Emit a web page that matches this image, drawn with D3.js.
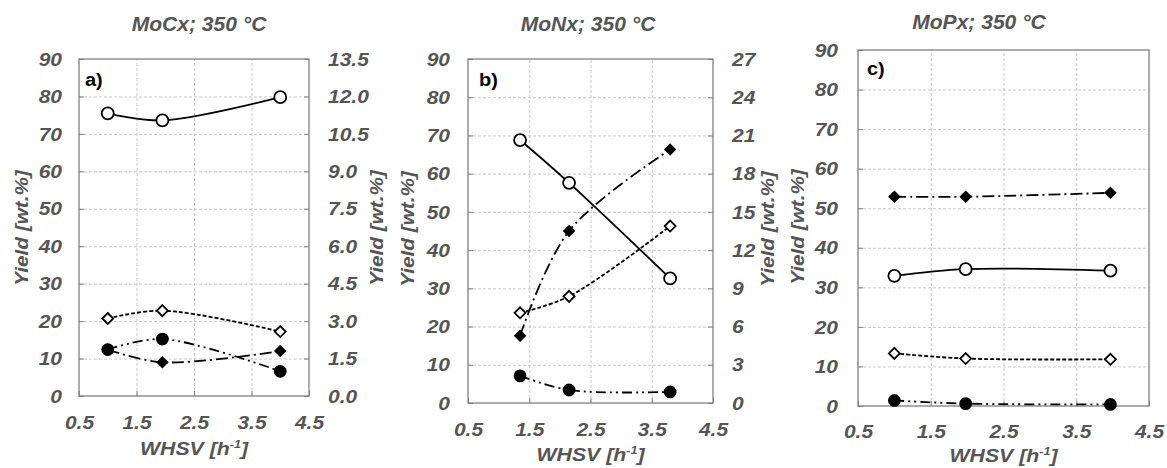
<!DOCTYPE html>
<html>
<head>
<meta charset="utf-8">
<script src="https://cdn.jsdelivr.net/npm/d3@7"></script>
<style>
body { margin: 0; background: #fff; }
text { font-family: "Liberation Sans", Arial, sans-serif; font-weight: bold; font-style: italic; fill: #555; }
.letter { fill: #000; font-style: normal; }
</style>
</head>
<body>
<svg id="chart" width="1167" height="468"></svg>
<script>
const titles = ["MoCx; 350 °C", "MoNx; 350 °C", "MoPx; 350 °C"];
const letters = ["a)", "b)", "c)"];
const xTicks = [0.5, 1.5, 2.5, 3.5, 4.5];
const leftTicks = [0, 10, 20, 30, 40, 50, 60, 70, 80, 90];
const rightTicksA = [0, 1.5, 3, 4.5, 6, 7.5, 9, 10.5, 12, 13.5];
const rightTicksB = [0, 3, 6, 9, 12, 15, 18, 21, 24, 27];

// panel a) MoCx
const whsvA = [1.0, 1.95, 4.0];
const openCircleA = [75.5, 73.6, 79.8];
const openDiamondA = [20.7, 22.8, 17.2];
const filledCircleA = [12.4, 15.2, 6.6];
const filledDiamondA = [12.4, 9.0, 12.0];

// panel b) MoNx
const whsvB = [1.35, 2.15, 3.8];
const openCircleB = [68.8, 57.6, 32.6];
const openDiamondB = [23.6, 27.9, 46.3];
const filledCircleB = [7.1, 3.4, 2.9];
const filledDiamondB = [17.6, 45.0, 66.3];

// panel c) MoPx
const whsvC = [1.0, 1.98, 3.97];
const openCircleC = [32.9, 34.6, 34.2];
const openDiamondC = [13.3, 12.0, 11.8];
const filledCircleC = [1.4, 0.6, 0.4];
const filledDiamondC = [52.9, 52.9, 53.9];

const svg = d3.select("#chart");

const panels = [
  { x: whsvA, ys: [openCircleA, openDiamondA, filledCircleA, filledDiamondA], right: rightTicksA, rfmt: d3.format(".1f"),
    x0: 79, x1: 309, y0: 59, y1: 396, lab: 62, rlab: 328, tx: 199, ty: 31, lx: 85, ly: 86,
    xly: 429, xty: 455, yl: 28, yr: 383, yc: 228 },
  { x: whsvB, ys: [openCircleB, openDiamondB, filledCircleB, filledDiamondB], right: rightTicksB, rfmt: d3.format("d"),
    x0: 468, x1: 713, y0: 59, y1: 403, lab: 450, rlab: 732, tx: 588, ty: 31, lx: 479, ly: 86,
    xly: 436, xty: 461, yl: 414, yr: 774, yc: 229 },
  { x: whsvC, ys: [openCircleC, openDiamondC, filledCircleC, filledDiamondC], right: null,
    x0: 858, x1: 1149, y0: 50, y1: 406, lab: 838, rlab: null, tx: 979, ty: 29, lx: 867, ly: 75,
    xly: 438, xty: 462, yl: 804, yr: null, yc: 227 }
];

// line / marker styles for the four series
const styles = [
  { dash: null, marker: "circle", r: 6, fill: "#fff" },
  { dash: "4,2", marker: "diamond", r: 5.5, fill: "#fff" },
  { dash: "10,4,2,4,2,4", marker: "circle", r: 5.5, fill: "#000" },
  { dash: "12,4,2,4", marker: "diamond", r: 5, fill: "#000" }
];

function label(g, x, y, str, size, sx, anchor, rot) {
  return g.append("text")
    .attr("transform", `translate(${x},${y}) rotate(${rot || 0}) scale(${sx},1)`)
    .attr("text-anchor", anchor)
    .style("font-size", size + "px")
    .text(str);
}

panels.forEach((p, i) => {
  const g = svg.append("g");
  const x = d3.scaleLinear().domain([0.5, 4.5]).range([p.x0, p.x1]);
  const y = d3.scaleLinear().domain([0, 90]).range([p.y1, p.y0]);

  // grid
  g.append("g").attr("transform", `translate(${p.x0},0)`)
    .call(d3.axisLeft(y).tickValues(leftTicks.slice(1, -1)).tickSize(-(p.x1 - p.x0)).tickFormat(""))
    .call(s => s.select(".domain").remove())
    .selectAll("line").attr("stroke", "#c8c8c8").attr("stroke-dasharray", "3,2");
  g.append("g").attr("transform", `translate(0,${p.y1})`)
    .call(d3.axisBottom(x).tickValues(xTicks.slice(1, -1)).tickSize(-(p.y1 - p.y0)).tickFormat(""))
    .call(s => s.select(".domain").remove())
    .selectAll("line").attr("stroke", "#c8c8c8").attr("stroke-dasharray", "3,2");

  // left axis
  const la = g.append("g").attr("transform", `translate(${p.x0},0)`)
    .call(d3.axisLeft(y).tickValues(leftTicks).tickSizeInner(-5).tickSizeOuter(0));
  la.select(".domain").remove();
  la.selectAll("line").attr("stroke", "#808080");
  la.selectAll("text").attr("x", 0).attr("dy", "0.35em")
    .attr("transform", `translate(${p.lab - p.x0},0) scale(1.2,1)`)
    .style("font-size", "17.5px").attr("fill", null);

  // right axis
  if (p.right) {
    const yr = d3.scaleLinear().domain([0, p.right[p.right.length - 1]]).range([p.y1, p.y0]);
    const ra = g.append("g").attr("transform", `translate(${p.x1},0)`)
      .call(d3.axisRight(yr).tickValues(p.right).tickFormat(p.rfmt).tickSizeInner(-5).tickSizeOuter(0));
    ra.select(".domain").remove();
    ra.selectAll("line").attr("stroke", "#808080");
    ra.selectAll("text").attr("x", 0).attr("dy", "0.35em")
      .attr("transform", `translate(${p.rlab - p.x1},0) scale(1.2,1)`)
      .style("font-size", "17.5px").attr("fill", null);
  }

  // bottom axis
  const ba = g.append("g").attr("transform", `translate(0,${p.y1})`)
    .call(d3.axisBottom(x).tickValues(xTicks).tickFormat(d3.format(".1f")).tickSizeInner(-5).tickSizeOuter(0));
  ba.select(".domain").remove();
  ba.selectAll("line").attr("stroke", "#808080");
  ba.selectAll("text").attr("y", p.xly - p.y1).attr("dy", 0)
    .attr("transform", "scale(1.2,1)")
    .style("font-size", "17.5px").attr("fill", null);

  // frame
  g.append("rect").attr("x", p.x0).attr("y", p.y0)
    .attr("width", p.x1 - p.x0).attr("height", p.y1 - p.y0)
    .attr("fill", "none").attr("stroke", "#808080").attr("stroke-width", 1.3);

  // titles
  label(g, p.tx, p.ty, titles[i], 19.5, 1.08, "middle");
  label(g, (p.x0 + p.x1) / 2, p.xty, "WHSV [h", 18.5, 1.15, "middle")
    .call(t => { t.text("WHSV [h");
      t.append("tspan").attr("dy", -7).style("font-size", "11px").text("-1");
      t.append("tspan").attr("dy", 7).text("]"); });
  label(g, p.yl, p.yc, "Yield [wt.%]", 19, 1.09, "middle", -90);
  if (p.yr) label(g, p.yr, p.yc, "Yield [wt.%]", 19, 1.09, "middle", -90);
  label(g, p.lx, p.ly, letters[i], 19, 1.05, "start").attr("class", "letter");

  // series
  const line = d3.line().x(d => x(d[0])).y(d => y(d[1])).curve(d3.curveCatmullRom.alpha(0.5));
  p.ys.forEach((vals, k) => {
    const st = styles[k];
    const pts = p.x.map((v, j) => [v, vals[j]]);
    g.append("path").datum(pts).attr("d", line)
      .attr("fill", "none").attr("stroke", "#000").attr("stroke-width", 1.8)
      .attr("stroke-dasharray", st.dash);
  });
  p.ys.forEach((vals, k) => {
    const st = styles[k];
    const pts = p.x.map((v, j) => [v, vals[j]]);
    g.append("g").selectAll("path").data(pts).enter().append("path")
      .attr("transform", d => `translate(${x(d[0])},${y(d[1])})`)
      .attr("d", st.marker === "circle"
        ? d3.arc()({ innerRadius: 0, outerRadius: st.r, startAngle: 0, endAngle: 2 * Math.PI })
        : `M0,${-st.r}L${st.r},0L0,${st.r}L${-st.r},0Z`)
      .attr("fill", st.fill).attr("stroke", "#000").attr("stroke-width", 1.8);
  });
});
</script>
</body>
</html>
